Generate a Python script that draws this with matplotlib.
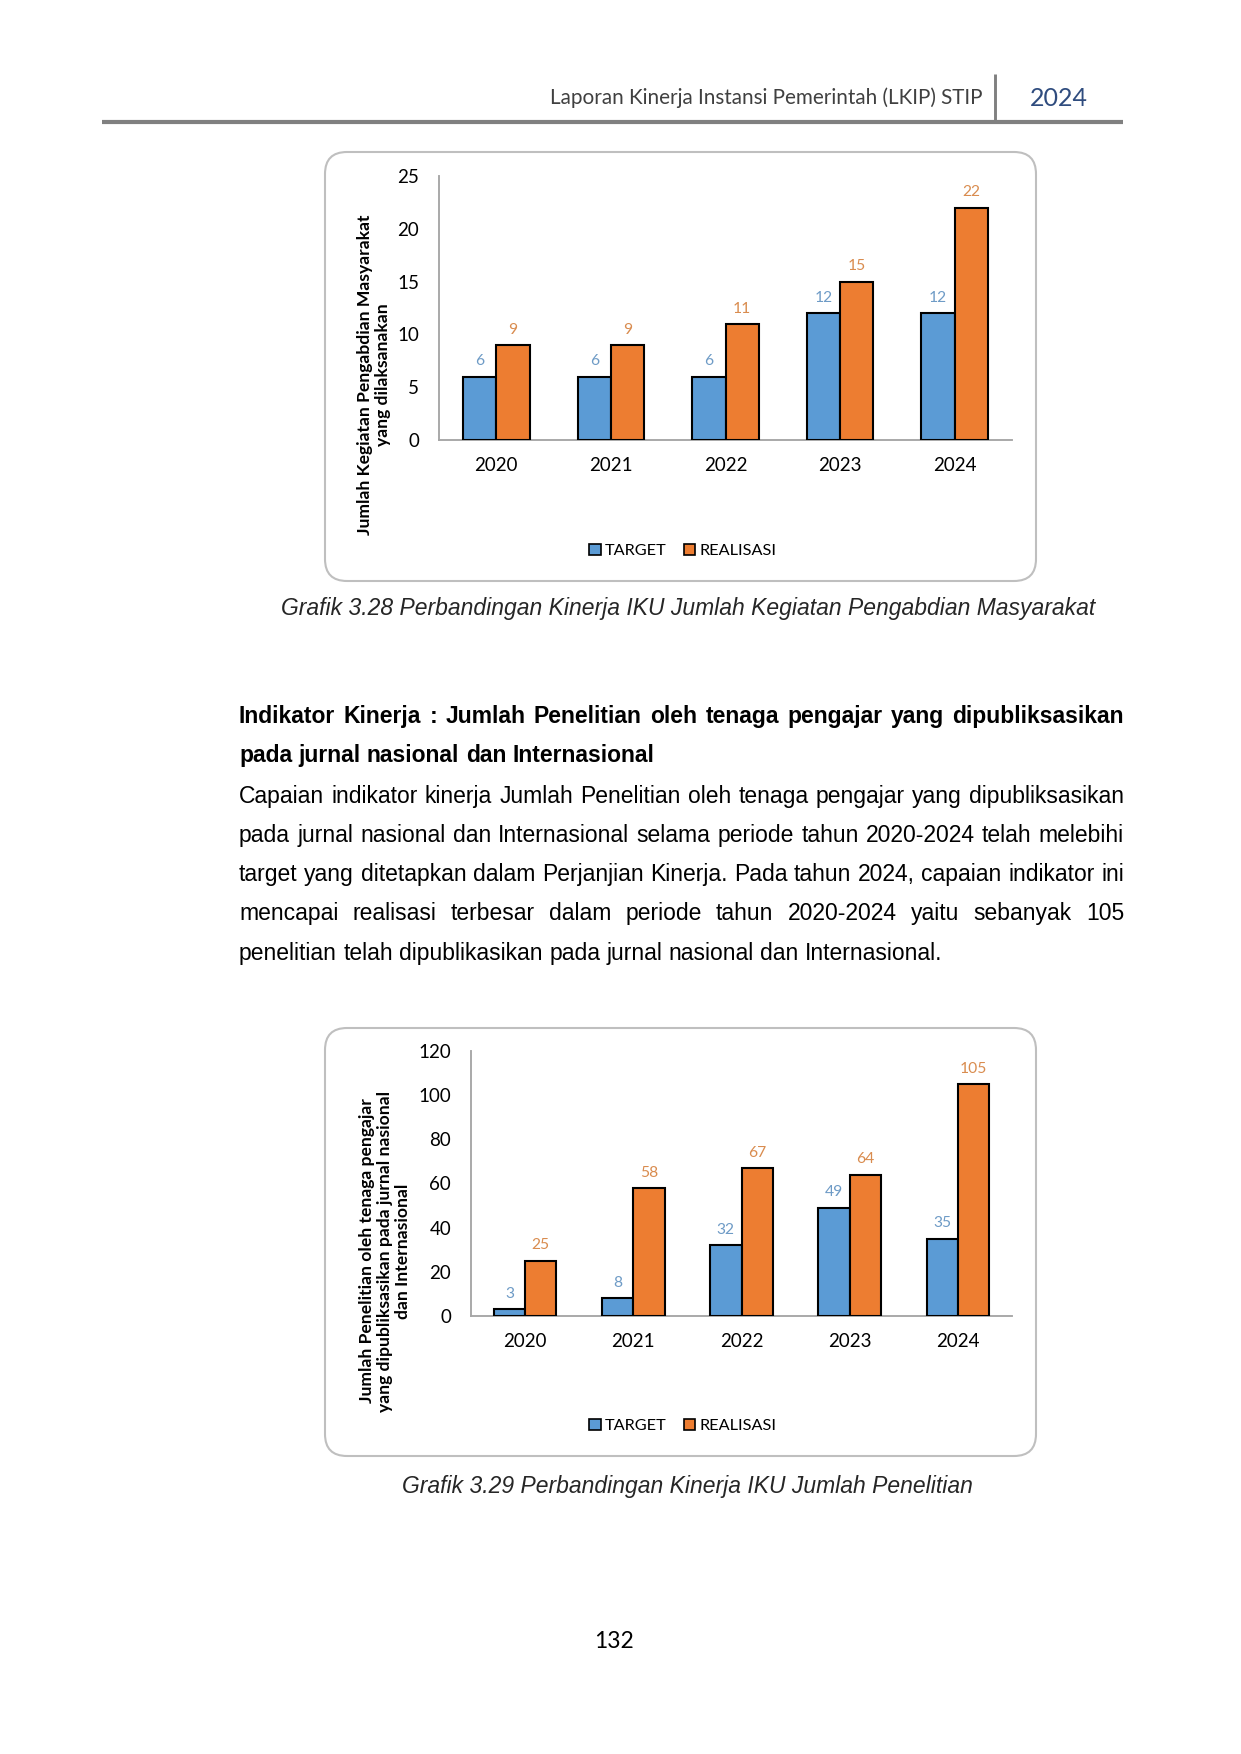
import matplotlib
matplotlib.use("Agg")
import matplotlib.pyplot as plt
from matplotlib.patches import FancyBboxPatch, Rectangle
import numpy as np

# ---------------- data ----------------
years = ["2020", "2021", "2022", "2023", "2024"]
target1 = [6, 6, 6, 12, 12]
real1 = [9, 9, 11, 15, 22]
yticks1 = [0, 5, 10, 15, 20, 25]
ylabel1 = "Jumlah Kegiatan Pengabdian Masyarakat\nyang dilaksanakan"

target2 = [3, 8, 32, 49, 35]
real2 = [25, 58, 67, 64, 105]
yticks2 = [0, 20, 40, 60, 80, 100, 120]
ylabel2 = "Jumlah Penelitian oleh tenaga pengajar\nyang dipubliksasikan pada jurnal nasional\ndan Internasional"

series_names = ["TARGET", "REALISASI"]

header_text = "Laporan Kinerja Instansi Pemerintah (LKIP) STIP"
header_year = "2024"
caption1 = "Grafik 3.28 Perbandingan Kinerja IKU Jumlah Kegiatan Pengabdian Masyarakat"
caption2 = "Grafik 3.29 Perbandingan Kinerja IKU Jumlah Penelitian"
heading_lines = [
    "Indikator Kinerja : Jumlah Penelitian oleh tenaga pengajar yang dipubliksasikan",
    "pada jurnal nasional dan Internasional",
]
body_lines = [
    "Capaian indikator kinerja Jumlah Penelitian oleh tenaga pengajar yang dipubliksasikan",
    "pada jurnal nasional dan Internasional selama periode tahun 2020-2024 telah melebihi",
    "target yang ditetapkan dalam Perjanjian Kinerja. Pada tahun 2024, capaian indikator ini",
    "mencapai realisasi terbesar dalam periode tahun 2020-2024 yaitu sebanyak 105",
    "penelitian telah dipublikasikan pada jurnal nasional dan Internasional.",
]
page_number = "132"

# ---------------- style ----------------
W, H = 1241, 1754
DPI = 150
BLUE = "#5B9BD5"
ORANGE = "#ED7D31"
BLUE_LBL = "#6E9BC6"
ORANGE_LBL = "#D98C4F"
CHART_FONT = ["Lato", "DejaVu Sans"]
DOC_FONT = ["Liberation Sans", "DejaVu Sans"]

fig = plt.figure(figsize=(W / DPI, H / DPI), dpi=DPI)
fig.patch.set_facecolor("white")

# pixel overlay axes
ax0 = fig.add_axes([0, 0, 1, 1])
ax0.set_xlim(0, W)
ax0.set_ylim(H, 0)
ax0.axis("off")
ax0.set_zorder(0)

# header
ax0.plot([102, 1123], [122, 122], color="#808080", lw=2.0, solid_capstyle="butt")
ax0.plot([995, 995], [74, 121], color="#808080", lw=1.4, solid_capstyle="butt")
ax0.text(983, 98, header_text, ha="right", va="center", fontsize=9.9,
         family=CHART_FONT, color="#404040")
ax0.text(1059, 98, header_year, ha="center", va="center", fontsize=12,
         family=CHART_FONT, color="#2F4C7E")

# rounded boxes
for (x0, y0, x1, y1) in [(325, 152, 1036, 581), (325, 1028, 1036, 1456)]:
    ax0.add_patch(FancyBboxPatch((x0, y0), x1 - x0, y1 - y0,
                                 boxstyle="round,pad=0,rounding_size=22",
                                 fc="white", ec="#BFBFBF", lw=1.0))

# captions
ax0.text(688, 608, caption1, ha="center", va="center", fontsize=11,
         style="italic", family=DOC_FONT, color="#262626")
ax0.text(687, 1486, caption2, ha="center", va="center", fontsize=11,
         style="italic", family=DOC_FONT, color="#262626")
ax0.text(614, 1642, page_number, ha="center", va="center", fontsize=11,
         family=CHART_FONT, color="#000000")

# justified document text
renderer = fig.canvas.get_renderer()


def draw_line(text, y, x0, x1, fontsize, weight, justify):
    words = text.split()
    base = y + 0.26 * fontsize * DPI / 72
    objs = [ax0.text(0, base, w, ha="left", va="baseline", fontsize=fontsize,
                     fontweight=weight, family=DOC_FONT, color="#000000")
            for w in words]
    widths = [o.get_window_extent(renderer).width for o in objs]
    if justify and len(words) > 1:
        gap = (x1 - x0 - sum(widths)) / (len(words) - 1)
    else:
        gap = fontsize * DPI / 72 * 0.278
    x = x0
    for o, w in zip(objs, widths):
        o.set_x(x)
        x += w + gap


TX0, TX1 = 239, 1124
FS = 11
draw_line(heading_lines[0], 717, TX0, TX1, FS, "bold", True)
draw_line(heading_lines[1], 756, TX0, TX1, FS, "bold", False)
body_y = [797, 836, 875, 914, 954]
for i, (line, y) in enumerate(zip(body_lines, body_y)):
    draw_line(line, y, TX0, TX1, FS, "normal", i < len(body_lines) - 1)


# ---------------- charts ----------------
def px_axes(left, right, top, bottom):
    return [left / W, 1 - bottom / H, (right - left) / W, (bottom - top) / H]


def make_chart(rect, target, real, yticks, ylabel, ylab_x, ylab_y, leg_y):
    ax = fig.add_axes(rect)
    ax.set_zorder(2)
    ax.patch.set_alpha(0)
    x = np.arange(len(years))
    bw = 0.29
    ax.bar(x - bw / 2, target, bw, color=BLUE, edgecolor="black", lw=1.0,
           label=series_names[0], zorder=3)
    ax.bar(x + bw / 2, real, bw, color=ORANGE, edgecolor="black", lw=1.0,
           label=series_names[1], zorder=3)
    for xi, v in zip(x, target):
        ax.annotate(str(v), (xi - bw / 2, v), xytext=(0, 4), textcoords="offset points",
                    ha="center", va="bottom", fontsize=7.5, color=BLUE_LBL,
                    family=CHART_FONT)
    for xi, v in zip(x, real):
        ax.annotate(str(v), (xi + bw / 2, v), xytext=(0, 4), textcoords="offset points",
                    ha="center", va="bottom", fontsize=7.5, color=ORANGE_LBL,
                    family=CHART_FONT)
    ax.set_xlim(-0.5, len(years) - 0.5)
    ax.set_ylim(yticks[0], yticks[-1])
    ax.set_yticks(yticks)
    ax.set_xticks(x)
    ax.set_xticklabels(years)
    for s in ["top", "right"]:
        ax.spines[s].set_visible(False)
    for s in ["left", "bottom"]:
        ax.spines[s].set_color("#A6A6A6")
        ax.spines[s].set_linewidth(0.9)
    ax.tick_params(axis="y", length=0, pad=9.5, labelsize=9)
    ax.tick_params(axis="x", length=0, pad=8, labelsize=9)
    for lab in ax.get_xticklabels() + ax.get_yticklabels():
        lab.set_family(CHART_FONT)
        lab.set_color("#000000")
    fig.text(ylab_x / W, 1 - ylab_y / H, ylabel, rotation=90, ha="center", va="center",
             fontsize=8.4, fontweight="bold", family=CHART_FONT, multialignment="center",
             linespacing=1.15)
    handles = [Rectangle((0, 0), 1, 1, fc=BLUE, ec="black", lw=0.8),
               Rectangle((0, 0), 1, 1, fc=ORANGE, ec="black", lw=0.8)]
    fig.legend(handles, series_names, loc="center",
               bbox_to_anchor=(683 / W, 1 - leg_y / H), ncol=2, frameon=False,
               handlelength=0.7, handleheight=0.7, handletextpad=0.28,
               columnspacing=1.05, prop={"family": CHART_FONT, "size": 7.8})
    return ax


make_chart(px_axes(439, 1012, 176, 440), target1, real1, yticks1, ylabel1, 374, 375, 551)
make_chart(px_axes(471, 1012, 1051, 1316), target2, real2, yticks2, ylabel2, 385, 1251, 1426)

fig.savefig("out.png", dpi=DPI, facecolor="white")
